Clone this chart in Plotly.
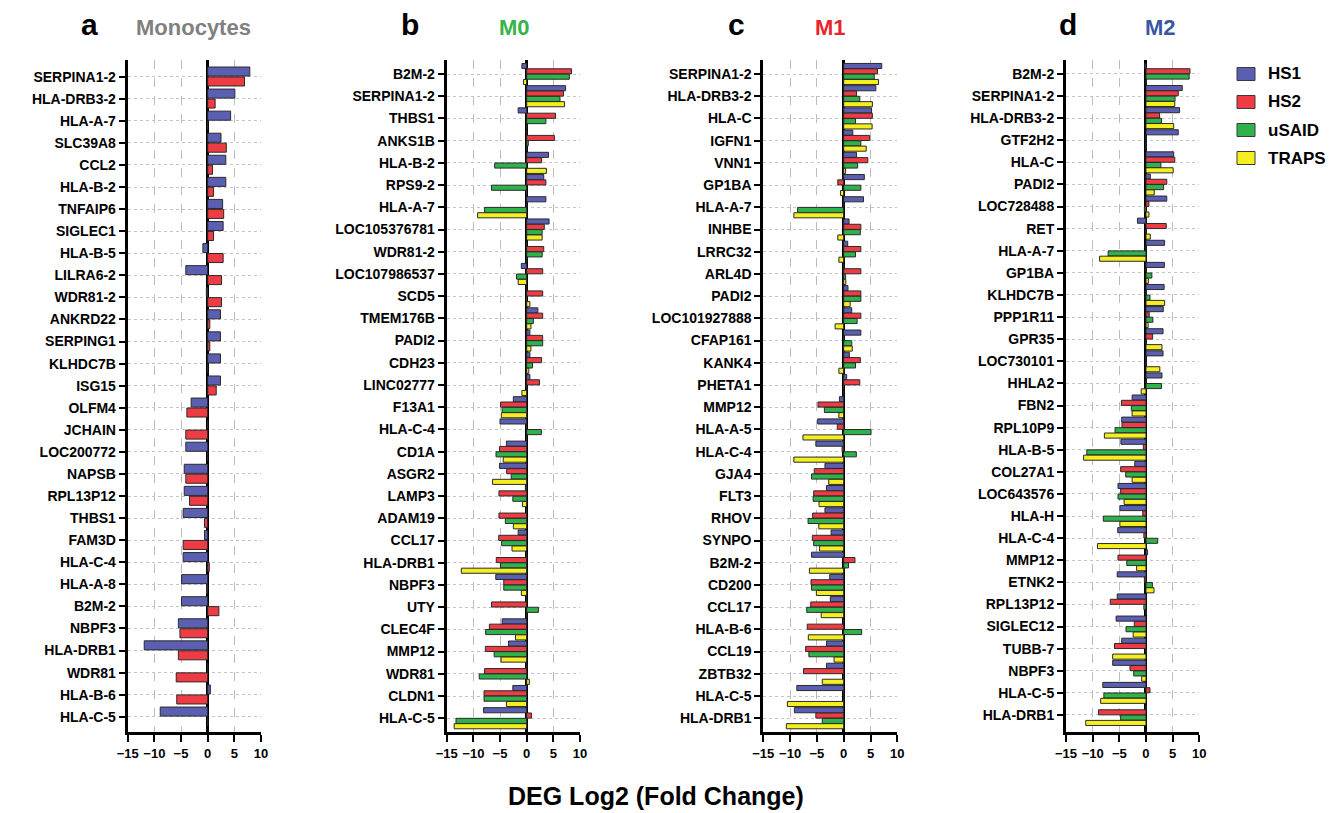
import plotly.graph_objects as go

# ---------------- data ----------------
series_names = ["HS1", "HS2", "uSAID", "TRAPS"]

cats_a = ["SERPINA1-2", "HLA-DRB3-2", "HLA-A-7", "SLC39A8", "CCL2", "HLA-B-2", "TNFAIP6", "SIGLEC1",
          "HLA-B-5", "LILRA6-2", "WDR81-2", "ANKRD22", "SERPING1", "KLHDC7B", "ISG15", "OLFM4", "JCHAIN",
          "LOC200772", "NAPSB", "RPL13P12", "THBS1", "FAM3D", "HLA-C-4", "HLA-A-8", "B2M-2", "NBPF3",
          "HLA-DRB1", "WDR81", "HLA-B-6", "HLA-C-5"]
a_hs1 = [7.9, 5.1, 4.3, 2.5, 3.4, 3.4, 2.8, 2.9, -0.9, -4.1, -0.25, 2.4, 2.4, 2.4, 2.4, -3.1, 0, -4.1,
         -4.4, -4.4, -4.6, -0.6, -4.6, -4.9, -4.9, -5.5, -11.9, 0, 0.5, -8.9]
a_hs2 = [6.9, 1.4, 0, 3.5, 0.9, 1.1, 3.0, 1.1, 2.9, 2.6, 2.6, 0.4, 0.4, 0, 1.6, -3.9, -4.1, 0,
         -4.1, -3.4, -0.6, -4.6, 0.3, -0.2, 2.1, -5.2, -5.5, -5.9, -5.8, 0]

cats_b = ["B2M-2", "SERPINA1-2", "THBS1", "ANKS1B", "HLA-B-2", "RPS9-2", "HLA-A-7", "LOC105376781",
          "WDR81-2", "LOC107986537", "SCD5", "TMEM176B", "PADI2", "CDH23", "LINC02777", "F13A1", "HLA-C-4",
          "CD1A", "ASGR2", "LAMP3", "ADAM19", "CCL17", "HLA-DRB1", "NBPF3", "UTY", "CLEC4F", "MMP12",
          "WDR81", "CLDN1", "HLA-C-5"]
b_hs1 = [-0.9, 7.3, -1.6, 0, 4.1, 3.2, 3.6, 4.2, 0, -1.0, 0, 2.1, 0.6, 0.6, 0.6, -2.5, -5.0, -3.8, -5.1,
         -0.25, 0, -1.6, 0, -5.8, 0, -4.6, -3.4, 0, -2.6, -8.1]
b_hs2 = [8.4, 6.9, 5.4, 5.2, 2.8, 3.6, 0, 3.3, 3.2, 3.0, 3.0, 3.0, 3.0, 2.8, 2.4, -4.9, 0, -5.1, -3.75,
         -5.2, -5.2, -5.25, -5.7, -4.3, -6.6, -7.0, -7.75, -7.9, -8.0, 0.9]
b_usaid = [8.0, 6.25, 3.6, 0.3, -6.0, -6.6, -7.9, 2.9, 2.9, -1.9, -0.1, 1.25, 3.0, 1.1, 0, -4.6, 2.75,
           -5.75, -2.9, -2.6, -4.0, -4.7, -4.9, -4.3, 2.2, -7.7, -6.1, -8.9, -8.0, -13.25]
b_traps = [-0.6, 7.1, 0, 0, 3.7, 0, -9.2, 2.9, 0, -1.6, 0.6, 0.8, 0.8, 0.4, -0.9, -4.75, 0, -4.4, -6.4,
           -0.8, -2.5, -2.75, -12.25, -1.0, 0, -2.1, -4.8, 0.5, -3.8, -13.6]

cats_c = ["SERPINA1-2", "HLA-DRB3-2", "HLA-C", "IGFN1", "VNN1", "GP1BA", "HLA-A-7", "INHBE", "LRRC32",
          "ARL4D", "PADI2", "LOC101927888", "CFAP161", "KANK4", "PHETA1", "MMP12", "HLA-A-5", "HLA-C-4",
          "GJA4", "FLT3", "RHOV", "SYNPO", "B2M-2", "CD200", "CCL17", "HLA-B-6", "CCL19", "ZBTB32",
          "HLA-C-5", "HLA-DRB1"]
c_hs1 = [7.1, 6.0, 5.2, 1.7, 2.4, 3.85, 3.7, 1.0, 0.75, 0, 0.8, 1.5, 3.2, 1.05, 0.55, -0.8, -4.85, -5.2,
         -3.5, -3.2, -3.5, -2.35, -6.0, -2.6, -2.5, 0, -3.2, -3.2, -8.75, -9.2]
c_hs2 = [6.3, 2.4, 5.35, 4.85, 4.5, -1.1, 0, 3.2, 3.2, 3.2, 3.2, 3.2, 0, 3.1, 3.0, -4.8, -1.2, -0.3,
         -5.5, -5.6, -5.8, -5.85, 2.1, -6.1, -6.15, -6.8, -7.1, -7.5, 0, -5.2]
c_usaid = [5.7, 3.0, 2.2, 3.2, 2.6, 3.2, -8.6, 3.1, 2.2, 0.35, 3.2, 2.5, 1.5, 2.2, 0, -3.6, 5.1, 2.35,
           -6.0, -5.7, -6.65, -5.6, 0.9, -6.0, -6.9, 3.35, -6.5, 0, 0, -4.0]
c_traps = [6.5, 5.35, 5.3, 4.2, 0.35, -0.6, -9.3, -1.1, -0.9, 0.4, 1.2, -1.6, 1.6, -0.9, 0, -0.9, -7.6,
           -9.3, -2.8, -4.6, -4.65, -4.5, -6.4, -5.1, -4.2, -6.6, -1.8, -4.0, -10.5, -10.7]

cats_d = ["B2M-2", "SERPINA1-2", "HLA-DRB3-2", "GTF2H2", "HLA-C", "PADI2", "LOC728488", "RET", "HLA-A-7",
          "GP1BA", "KLHDC7B", "PPP1R11", "GPR35", "LOC730101", "HHLA2", "FBN2", "RPL10P9", "HLA-B-5",
          "COL27A1", "LOC643576", "HLA-H", "HLA-C-4", "MMP12", "ETNK2", "RPL13P12", "SIGLEC12", "TUBB-7",
          "NBPF3", "HLA-C-5", "HLA-DRB1"]
d_hs1 = [-0.2, 6.8, 6.3, 6.05, 5.2, 0.8, 3.9, -1.6, 3.5, 3.45, 3.4, 3.25, 3.2, 3.2, 3.0, -2.6, -4.55,
         -4.7, -2.1, -5.25, -4.9, -5.3, 0.3, -5.4, -5.4, -5.6, -4.55, -6.25, -8.1, 0]
d_hs2 = [8.25, 6.05, 2.55, 0, 5.4, 3.9, 0.55, 3.8, 0, 0, 0, 0.6, 1.25, 0, 0, -4.6, -4.5, -0.5, -4.75,
         -4.75, -0.6, -0.4, -5.25, -0.3, -6.7, -2.2, -5.9, -3.0, 0.75, -8.9]
d_usaid = [8.1, 5.45, 2.9, 0, 2.8, 3.3, -0.3, 0, -7.1, 1.1, 0.75, 1.3, 0, 0, 2.9, -2.75, -5.8, -11.1,
           -3.8, -5.25, -8.0, 2.2, -3.6, 1.2, -0.4, -3.75, 0, -2.3, -7.9, -4.75]
d_traps = [0, 5.4, 5.2, 0, 5.1, 1.55, 0.55, 0.8, -8.7, 0.45, 3.5, 0.4, 3.0, 2.6, -0.9, -2.6, -7.8, -11.7,
           -2.6, -4.1, -4.9, -9.1, -1.75, 1.5, 0, -2.4, -6.25, -0.8, -8.5, -11.3]

x_ticks = [-15, -10, -5, 0, 5, 10]
panel_letters = ["a", "b", "c", "d"]
panel_titles = ["Monocytes", "M0", "M1", "M2"]

# ---------------- style ----------------
W, H = 1339, 813
colors = {"HS1": "#5a5fb2", "HS2": "#ee3b44", "uSAID": "#2fb24b", "TRAPS": "#f5ee21"}
title_colors = ["#808080", "#35b449", "#e8252b", "#3b55a5"]
FONT = "Liberation Sans, Arial, sans-serif"

panels = [
    dict(cats=cats_a, data=[a_hs1, a_hs2], px=(127.7, 261.0), yr=[29.69, -0.757],
         width=0.41, offs=[-0.44, 0.01], letter_x=89, title_x=193),
    dict(cats=cats_b, data=[b_hs1, b_hs2, b_usaid, b_traps], px=(446.7, 580.0), yr=[29.62, -0.63],
         width=0.23, offs=[-0.475, -0.235, 0.005, 0.245], letter_x=410, title_x=514),
    dict(cats=cats_c, data=[c_hs1, c_hs2, c_usaid, c_traps], px=(763.3, 897.3), yr=[29.62, -0.63],
         width=0.23, offs=[-0.475, -0.235, 0.005, 0.245], letter_x=736, title_x=830),
    dict(cats=cats_d, data=[d_hs1, d_hs2, d_usaid, d_traps], px=(1066.0, 1199.3), yr=[29.77, -0.63],
         width=0.23, offs=[-0.475, -0.235, 0.005, 0.245], letter_x=1068, title_x=1160),
]

y_dom = [1 - 732 / H, 1 - 60 / H]

fig = go.Figure()
layout_axes = {}
annotations = []
shapes = []
for i, p in enumerate(panels):
    sfx = "" if i == 0 else str(i + 1)
    for k, vals in enumerate(p["data"]):
        name = series_names[k]
        fig.add_trace(go.Bar(
            y=p["cats"], x=vals, orientation="h",
            xaxis="x" + sfx, yaxis="y" + sfx,
            width=p["width"], offset=p["offs"][k],
            marker=dict(color=colors[name], line=dict(color="#2a2a2a", width=1)),
            name=name, showlegend=False,
        ))
    layout_axes["xaxis" + sfx] = dict(
        domain=[p["px"][0] / W, p["px"][1] / W], anchor="y" + sfx, automargin=False,
        range=[-15, 10], tickmode="array", tickvals=x_ticks,
        showline=True, linewidth=3, linecolor="black",
        ticks="outside", ticklen=7, tickwidth=2, tickcolor="black",
        showgrid=True, gridcolor="#bcbcbc", gridwidth=1, griddash="dash",
        zeroline=True, zerolinecolor="black", zerolinewidth=3,
        tickfont=dict(family=FONT, size=13, color="black", weight="bold"), fixedrange=True,
    )
    layout_axes["yaxis" + sfx] = dict(
        domain=y_dom, anchor="x" + sfx, type="category", automargin=False,
        categoryorder="array", categoryarray=p["cats"], range=p["yr"],
        showline=True, linewidth=3, linecolor="black",
        ticks="outside", ticklen=6, tickwidth=2, tickcolor="black",
        showgrid=True, gridcolor="#c4c4c4", gridwidth=1, griddash="dot",
        zeroline=False, tickfont=dict(family=FONT, size=14, color="black", weight="bold"),
        fixedrange=True,
    )
    annotations.append(dict(text=panel_letters[i], x=p["letter_x"] / W, y=1 - 24 / H,
                            xref="paper", yref="paper", xanchor="center", yanchor="middle",
                            showarrow=False,
                            font=dict(family=FONT, size=30, color="black", weight="bold")))
    annotations.append(dict(text=panel_titles[i], x=p["title_x"] / W, y=1 - 28 / H,
                            xref="paper", yref="paper", xanchor="center", yanchor="middle",
                            showarrow=False,
                            font=dict(family=FONT, size=22, color=title_colors[i], weight="bold")))

annotations.append(dict(text="DEG Log2 (Fold Change)", x=656 / W, y=1 - 796 / H,
                        xref="paper", yref="paper", xanchor="center", yanchor="middle",
                        showarrow=False,
                        font=dict(family=FONT, size=25, color="black", weight="bold")))

# legend drawn as swatches + labels
leg_y = [74, 102, 130, 158]
for k, name in enumerate(series_names):
    yc = leg_y[k]
    shapes.append(dict(type="rect", xref="paper", yref="paper",
                       x0=1237 / W, x1=1255 / W, y0=1 - (yc + 6.5) / H, y1=1 - (yc - 6.5) / H,
                       fillcolor=colors[name], line=dict(color="#3a3a3a", width=1)))
    annotations.append(dict(text=name, x=1266 / W, y=1 - yc / H, xref="paper", yref="paper",
                            xanchor="left", yanchor="middle", showarrow=False,
                            font=dict(family=FONT, size=17, color="black", weight="bold")))

fig.update_layout(
    width=W, height=H,
    margin=dict(l=0, r=0, t=0, b=0, autoexpand=False),
    paper_bgcolor="white", plot_bgcolor="white",
    barmode="overlay", showlegend=False,
    annotations=annotations, shapes=shapes,
    **layout_axes,
)

fig.write_html("out.html")
